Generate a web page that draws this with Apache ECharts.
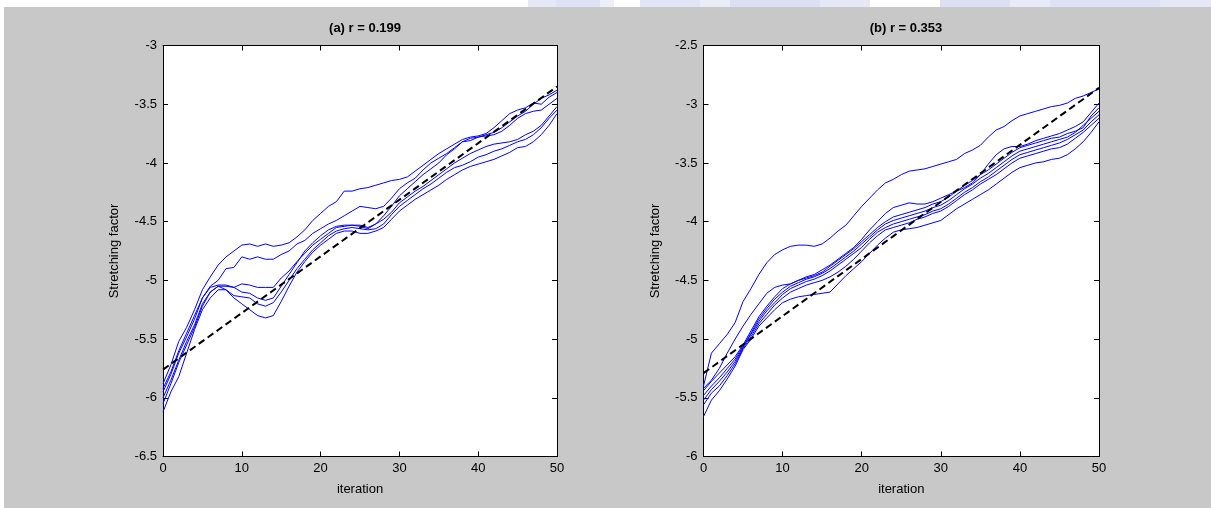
<!DOCTYPE html>
<html>
<head>
<meta charset="utf-8">
<script src="https://cdn.jsdelivr.net/npm/echarts@6/dist/echarts.min.js"></script>
<style>
  html, body { margin: 0; padding: 0; background: #ffffff; }
  #chart { width: 1211px; height: 508px; }
</style>
</head>
<body>
<div id="chart"></div>
<script>
// Iteration index shared by every run
const iterations = [0,1,2,3,4,5,6,7,8,9,10,11,12,13,14,15,16,17,18,19,20,21,22,23,24,25,26,27,28,29,30,31,32,33,34,35,36,37,38,39,40,41,42,43,44,45,46,47,48,49,50];

// Panel (a): stretching factor per run
const runA1 = [-5.88,-5.72,-5.52,-5.40,-5.25,-5.08,-4.97,-4.87,-4.80,-4.75,-4.70,-4.69,-4.71,-4.69,-4.71,-4.70,-4.68,-4.63,-4.57,-4.49,-4.43,-4.37,-4.33,-4.24,-4.24,-4.22,-4.21,-4.19,-4.17,-4.15,-4.14,-4.12,-4.07,-4.02,-3.97,-3.92,-3.88,-3.84,-3.80,-3.78,-3.77,-3.75,-3.70,-3.64,-3.58,-3.55,-3.53,-3.49,-3.50,-3.44,-3.40];
const runA2 = [-5.95,-5.80,-5.62,-5.48,-5.33,-5.15,-5.05,-5.00,-4.90,-4.89,-4.80,-4.82,-4.80,-4.82,-4.82,-4.78,-4.75,-4.69,-4.66,-4.60,-4.56,-4.52,-4.49,-4.45,-4.41,-4.37,-4.38,-4.39,-4.37,-4.30,-4.22,-4.17,-4.13,-4.06,-4.00,-3.96,-3.92,-3.87,-3.82,-3.81,-3.78,-3.77,-3.76,-3.73,-3.68,-3.62,-3.58,-3.56,-3.55,-3.50,-3.45];
const runA3 = [-6.00,-5.85,-5.68,-5.52,-5.38,-5.20,-5.10,-5.05,-5.05,-5.06,-5.03,-5.04,-5.06,-5.06,-5.06,-4.98,-4.92,-4.84,-4.77,-4.70,-4.65,-4.60,-4.55,-4.54,-4.53,-4.53,-4.55,-4.52,-4.48,-4.42,-4.34,-4.29,-4.24,-4.20,-4.15,-4.10,-4.05,-4.00,-3.96,-3.92,-3.89,-3.86,-3.84,-3.83,-3.82,-3.80,-3.76,-3.73,-3.68,-3.60,-3.52];
const runA4 = [-6.05,-5.88,-5.70,-5.55,-5.40,-5.22,-5.10,-5.05,-5.08,-5.13,-5.14,-5.15,-5.20,-5.22,-5.19,-5.10,-5.00,-4.90,-4.82,-4.74,-4.68,-4.62,-4.58,-4.56,-4.55,-4.56,-4.57,-4.56,-4.52,-4.44,-4.37,-4.32,-4.27,-4.22,-4.18,-4.13,-4.08,-4.04,-4.02,-3.99,-3.95,-3.93,-3.90,-3.88,-3.85,-3.82,-3.80,-3.76,-3.70,-3.62,-3.55];
const runA5 = [-6.12,-5.95,-5.82,-5.62,-5.42,-5.25,-5.15,-5.08,-5.08,-5.15,-5.20,-5.25,-5.30,-5.32,-5.30,-5.18,-5.05,-4.93,-4.84,-4.76,-4.70,-4.65,-4.60,-4.58,-4.58,-4.60,-4.60,-4.58,-4.55,-4.48,-4.41,-4.36,-4.31,-4.27,-4.23,-4.19,-4.14,-4.10,-4.06,-4.03,-4.01,-3.99,-3.97,-3.94,-3.91,-3.87,-3.86,-3.82,-3.76,-3.68,-3.58];
const runA6 = [-5.92,-5.78,-5.60,-5.45,-5.30,-5.15,-5.06,-5.04,-5.04,-5.06,-5.10,-5.11,-5.15,-5.17,-5.15,-5.05,-4.95,-4.85,-4.75,-4.68,-4.62,-4.57,-4.54,-4.53,-4.53,-4.54,-4.56,-4.52,-4.45,-4.37,-4.28,-4.22,-4.16,-4.10,-4.05,-4.00,-3.93,-3.88,-3.82,-3.79,-3.78,-3.76,-3.74,-3.70,-3.65,-3.60,-3.56,-3.50,-3.45,-3.42,-3.38];

// Panel (b): stretching factor per run
const runB1 = [-5.40,-5.12,-5.04,-4.96,-4.86,-4.68,-4.57,-4.45,-4.35,-4.28,-4.24,-4.21,-4.20,-4.20,-4.21,-4.19,-4.14,-4.08,-4.03,-3.95,-3.87,-3.80,-3.73,-3.67,-3.64,-3.60,-3.57,-3.56,-3.55,-3.53,-3.51,-3.49,-3.47,-3.42,-3.39,-3.35,-3.28,-3.22,-3.19,-3.14,-3.10,-3.08,-3.06,-3.04,-3.02,-3.01,-2.99,-2.95,-2.93,-2.90,-2.87];
const runB2 = [-5.42,-5.35,-5.25,-5.12,-5.00,-4.89,-4.79,-4.70,-4.61,-4.56,-4.54,-4.53,-4.50,-4.47,-4.45,-4.41,-4.37,-4.32,-4.27,-4.22,-4.15,-4.07,-4.00,-3.93,-3.88,-3.86,-3.84,-3.85,-3.85,-3.83,-3.80,-3.77,-3.74,-3.71,-3.67,-3.60,-3.51,-3.43,-3.38,-3.36,-3.36,-3.34,-3.31,-3.29,-3.27,-3.25,-3.22,-3.19,-3.15,-3.07,-2.99];
const runB3 = [-5.44,-5.36,-5.29,-5.22,-5.15,-5.05,-4.93,-4.81,-4.72,-4.64,-4.57,-4.53,-4.50,-4.48,-4.46,-4.43,-4.38,-4.33,-4.28,-4.23,-4.17,-4.11,-4.05,-4.00,-3.96,-3.94,-3.92,-3.90,-3.88,-3.85,-3.83,-3.79,-3.74,-3.69,-3.65,-3.60,-3.56,-3.51,-3.46,-3.41,-3.37,-3.35,-3.33,-3.31,-3.29,-3.28,-3.25,-3.23,-3.20,-3.10,-3.03];
const runB4 = [-5.48,-5.40,-5.33,-5.25,-5.17,-5.06,-4.95,-4.83,-4.74,-4.66,-4.60,-4.55,-4.52,-4.49,-4.47,-4.44,-4.40,-4.35,-4.30,-4.25,-4.19,-4.13,-4.07,-4.02,-3.99,-3.97,-3.95,-3.93,-3.91,-3.88,-3.86,-3.82,-3.77,-3.72,-3.68,-3.63,-3.59,-3.54,-3.49,-3.44,-3.40,-3.38,-3.36,-3.34,-3.32,-3.30,-3.28,-3.24,-3.18,-3.12,-3.06];
const runB5 = [-5.52,-5.43,-5.36,-5.28,-5.19,-5.07,-4.96,-4.85,-4.76,-4.69,-4.62,-4.57,-4.54,-4.51,-4.49,-4.46,-4.42,-4.37,-4.32,-4.27,-4.22,-4.15,-4.09,-4.05,-4.02,-4.00,-3.98,-3.96,-3.94,-3.91,-3.89,-3.85,-3.80,-3.75,-3.71,-3.66,-3.62,-3.57,-3.52,-3.47,-3.43,-3.41,-3.39,-3.37,-3.35,-3.33,-3.30,-3.26,-3.22,-3.15,-3.09];
const runB6 = [-5.56,-5.46,-5.40,-5.31,-5.21,-5.08,-4.98,-4.87,-4.79,-4.71,-4.65,-4.60,-4.57,-4.54,-4.52,-4.50,-4.47,-4.43,-4.38,-4.32,-4.25,-4.18,-4.12,-4.07,-4.05,-4.03,-4.01,-3.98,-3.96,-3.93,-3.91,-3.87,-3.82,-3.77,-3.73,-3.68,-3.64,-3.60,-3.55,-3.50,-3.46,-3.44,-3.42,-3.40,-3.38,-3.37,-3.34,-3.29,-3.24,-3.18,-3.12];
const runB7 = [-5.66,-5.52,-5.44,-5.34,-5.23,-5.09,-5.00,-4.89,-4.82,-4.75,-4.69,-4.66,-4.64,-4.63,-4.62,-4.61,-4.60,-4.53,-4.46,-4.40,-4.34,-4.27,-4.20,-4.14,-4.09,-4.07,-4.06,-4.05,-4.03,-4.01,-3.99,-3.94,-3.89,-3.85,-3.81,-3.77,-3.73,-3.68,-3.63,-3.58,-3.54,-3.52,-3.50,-3.49,-3.47,-3.46,-3.43,-3.38,-3.32,-3.24,-3.15];

// Fitted trend lines (value at first and last iteration)
const fitX = [0, 50];
const fitA = [-5.76, -3.35];
const fitB = [-5.29, -2.86];

// Axis ranges and titles
const xTicks = [0, 10, 20, 30, 40, 50];
const yRangeA = [-6.5, -3];
const yRangeB = [-6, -2.5];
const panelTitles = ['(a) r = 0.199', '(b) r = 0.353'];

const runsA = [runA1, runA2, runA3, runA4, runA5, runA6];
const runsB = [runB1, runB2, runB3, runB4, runB5, runB6, runB7];

const FONT = '"Liberation Sans", Arial, sans-serif';

function pairs(xs, ys) { return xs.map((x, i) => [x, ys[i]]); }

const grids = [
  { left: 163, right: 654, top: 45.5, bottom: 51.5, show: true, backgroundColor: '#ffffff', borderWidth: 0 },
  { left: 703.5, right: 112, top: 45.5, bottom: 51.5, show: true, backgroundColor: '#ffffff', borderWidth: 0 }
];

function xAxes(gi) {
  const base = {
    type: 'value', gridIndex: gi, min: xTicks[0], max: xTicks[xTicks.length - 1], interval: 10,
    axisLine: { show: true, lineStyle: { color: '#000', width: 1 } },
    axisTick: { show: true, inside: true, length: 5, lineStyle: { color: '#000' } },
    splitLine: { show: false }
  };
  return [
    Object.assign({}, base, {
      position: 'bottom',
      axisLabel: { color: '#000', fontFamily: FONT, fontSize: 13, margin: 5 },
      name: 'iteration', nameLocation: 'middle', nameGap: 26,
      nameTextStyle: { color: '#000', fontFamily: FONT, fontSize: 13 }
    }),
    Object.assign({}, base, { position: 'top', axisLabel: { show: false } })
  ];
}

function yAxes(gi, range) {
  const base = {
    type: 'value', gridIndex: gi, min: range[0], max: range[1], interval: 0.5,
    axisLine: { show: true, onZero: false, lineStyle: { color: '#000', width: 1 } },
    axisTick: { show: true, inside: true, length: 5, lineStyle: { color: '#000' } },
    splitLine: { show: false }
  };
  return [
    Object.assign({}, base, {
      position: 'left',
      axisLabel: { color: '#000', fontFamily: FONT, fontSize: 13, margin: 6 },
      name: 'Stretching factor', nameLocation: 'middle', nameGap: 42,
      nameTextStyle: { color: '#000', fontFamily: FONT, fontSize: 13 }
    }),
    Object.assign({}, base, { position: 'right', axisLabel: { show: false } })
  ];
}

const series = [];
runsA.forEach(r => series.push({
  type: 'line', xAxisIndex: 0, yAxisIndex: 0, data: pairs(iterations, r),
  showSymbol: false, symbol: 'none', lineStyle: { color: '#0000ff', width: 1 }, z: 2
}));
series.push({
  type: 'line', xAxisIndex: 0, yAxisIndex: 0, data: pairs(fitX, fitA),
  showSymbol: false, symbol: 'none', lineStyle: { color: '#000', width: 2, type: [7, 4] }, z: 3
});
runsB.forEach(r => series.push({
  type: 'line', xAxisIndex: 2, yAxisIndex: 2, data: pairs(iterations, r),
  showSymbol: false, symbol: 'none', lineStyle: { color: '#0000ff', width: 1 }, z: 2
}));
series.push({
  type: 'line', xAxisIndex: 2, yAxisIndex: 2, data: pairs(fitX, fitB),
  showSymbol: false, symbol: 'none', lineStyle: { color: '#000', width: 2, type: [7, 4] }, z: 3
});

// Pale scan blotches along the top edge of the page
const topBlotches = [
  [528, 28, '#e6e8f6'], [556, 44, '#dfe2f4'], [600, 14, '#eceef8'],
  [640, 60, '#e2e5f5'], [700, 30, '#eaecf7'], [730, 90, '#dde0f3'], [820, 50, '#e6e8f6'],
  [940, 70, '#dde0f3'], [1010, 40, '#e8eaf7'], [1050, 110, '#dfe2f4'], [1160, 51, '#e6e8f6']
];

const chart = echarts.init(document.getElementById('chart'), null, { renderer: 'canvas' });
chart.setOption({
  animation: false,
  backgroundColor: '#ffffff',
  graphic: [
    { type: 'rect', shape: { x: 4, y: 7, width: 1207, height: 501 }, style: { fill: '#c8c8c8' }, z: -10, silent: true }
  ].concat(topBlotches.map(b => ({
    type: 'rect', shape: { x: b[0], y: 0, width: b[1], height: 7 }, style: { fill: b[2] }, z: -10, silent: true
  }))),
  title: [
    { text: panelTitles[0], left: 360, top: 17, textAlign: 'center',
      textStyle: { fontFamily: FONT, fontSize: 13, fontWeight: 'bold', color: '#000' } },
    { text: panelTitles[1], left: 901, top: 17, textAlign: 'center',
      textStyle: { fontFamily: FONT, fontSize: 13, fontWeight: 'bold', color: '#000' } }
  ],
  grid: grids,
  xAxis: xAxes(0).concat(xAxes(1)),
  yAxis: yAxes(0, yRangeA).concat(yAxes(1, yRangeB)),
  series: series
});
</script>
</body>
</html>
